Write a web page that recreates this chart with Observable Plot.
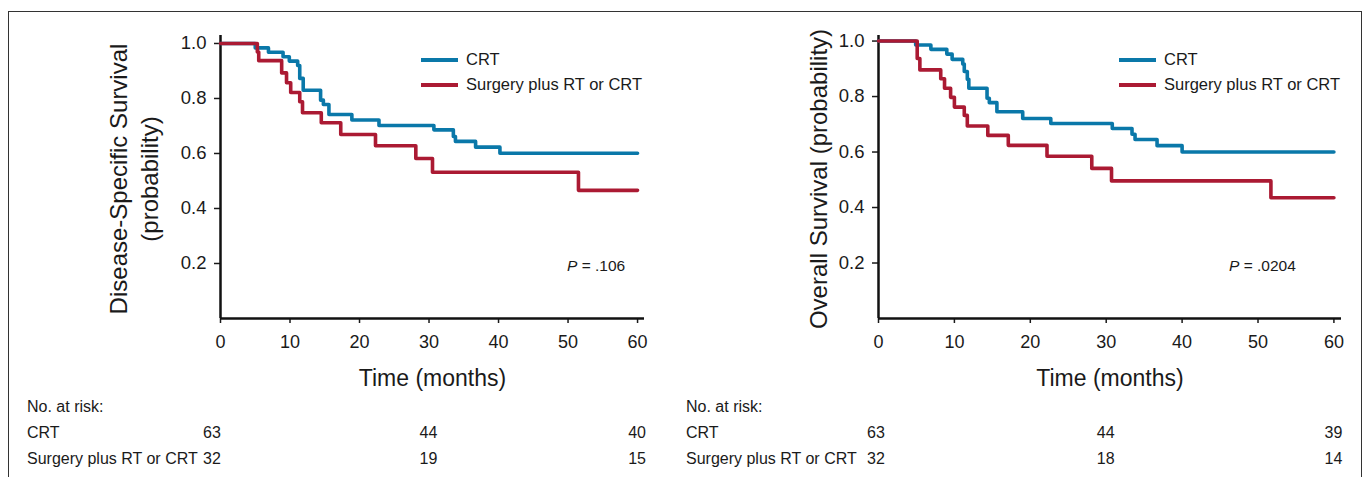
<!DOCTYPE html>
<html><head><meta charset="utf-8">
<script src="https://cdn.jsdelivr.net/npm/d3@7"></script>
<script src="https://cdn.jsdelivr.net/npm/@observablehq/plot@0.6"></script>
<style>
body{margin:0;background:#fff;font-family:"Liberation Sans",Arial,sans-serif;color:#1a1a1a}
#wrap{position:relative;width:1366px;height:477px;overflow:hidden;background:#fff}
#frame{position:absolute;left:8px;top:11px;width:1354px;height:520px;border:1.5px solid #333;box-sizing:border-box}
.abs{position:absolute;white-space:nowrap;line-height:1}
.panel{position:absolute;top:0}
</style></head><body><div id="wrap"><div id="frame"></div></div>
<script>
// ---- data ----
const groups = ["CRT", "Surgery plus RT or CRT"];
const groupColors = ["#0a78a9", "#ab1a33"];

// Disease-specific survival
const dssCrtTime = [0, 5.0, 6.9, 9.0, 9.9, 11.1, 11.4, 11.9, 14.4, 14.8, 15.6, 18.9, 22.8, 30.7, 33.5, 33.8, 36.7, 40.2, 60];
const dssCrtSurv = [1.0, 0.984, 0.968, 0.952, 0.936, 0.92, 0.873, 0.83, 0.794, 0.778, 0.742, 0.722, 0.702, 0.686, 0.662, 0.644, 0.623, 0.601, 0.601];
const dssSurgTime = [0, 5.3, 5.5, 8.8, 9.5, 10.1, 11.4, 11.8, 14.5, 17.3, 22.3, 28.1, 30.5, 51.5, 60];
const dssSurgSurv = [1.0, 0.969, 0.9375, 0.893, 0.857, 0.822, 0.788, 0.748, 0.712, 0.669, 0.628, 0.582, 0.532, 0.466, 0.466];

// Overall survival
const osCrtTime = [0, 4.9, 6.9, 9.0, 9.7, 11.1, 11.3, 11.7, 11.9, 14.3, 14.6, 15.6, 19.0, 22.7, 30.8, 33.4, 33.8, 36.7, 40.0, 60];
const osCrtSurv = [1.0, 0.986, 0.97, 0.953, 0.934, 0.917, 0.89, 0.862, 0.83, 0.794, 0.778, 0.745, 0.721, 0.703, 0.685, 0.664, 0.645, 0.623, 0.6, 0.6];
const osSurgTime = [0, 5.1, 5.45, 8.2, 8.7, 9.5, 10.0, 11.3, 11.7, 14.4, 17.1, 22.2, 28.1, 30.7, 51.7, 60];
const osSurgSurv = [1.0, 0.937, 0.896, 0.864, 0.83, 0.797, 0.762, 0.732, 0.694, 0.66, 0.624, 0.585, 0.541, 0.496, 0.435, 0.435];

const xTicks = [0, 10, 20, 30, 40, 50, 60];
const yTicks = [0.2, 0.4, 0.6, 0.8, 1.0];
const riskTimes = [0, 30, 60];
const dssRiskCrt = [63, 44, 40];
const dssRiskSurg = [32, 19, 15];
const osRiskCrt = [63, 44, 39];
const osRiskSurg = [32, 18, 14];
const dssP = ".106";
const osP = ".0204";
const dssYLabel = "Disease-Specific Survival\n(probability)";
const osYLabel = "Overall Survival (probability)";
const xLabel = "Time (months)";

function rows(time, surv, group) { return time.map((t, i) => ({t, s: surv[i], group})); }

function makePlot(cfg) {
  const data = [...rows(cfg.crtT, cfg.crtS, groups[0]), ...rows(cfg.surT, cfg.surS, groups[1])];
  return Plot.plot({
    width: cfg.width, height: 400,
    marginLeft: cfg.ml, marginRight: cfg.mr, marginTop: 35, marginBottom: 82,
    style: {fontFamily: '"Liberation Sans", Arial, sans-serif', fontSize: "18px", color: "#1a1a1a", background: "transparent", overflow: "visible"},
    x: {domain: [0, 61]},
    y: {domain: [0, cfg.ytop]},
    color: {domain: groups, range: groupColors},
    marks: [
      Plot.axisX({ticks: xTicks, tickSize: 5, tickPadding: 12, tickFormat: d => d, label: null, strokeWidth: 1.5, fontSize: 18}),
      Plot.axisY({ticks: yTicks, tickSize: 6, tickPadding: 8, tickFormat: d3.format(".1f"), label: null, strokeWidth: 1.5, fontSize: 18.5}),
      Plot.ruleY([0], {stroke: "#111", strokeWidth: 2.5}),
      Plot.ruleX([0], {stroke: "#111", strokeWidth: 2.5}),
      Plot.line(data, {x: "t", y: "s", z: "group", stroke: "group", curve: "step-after", strokeWidth: 3.6}),
      Plot.text([cfg.ylabel], {text: d => d, frameAnchor: "left", textAnchor: "middle", lineAnchor: "middle", rotate: -90, dx: cfg.ydx, dy: 2, fontSize: 24, lineHeight: 1.3, fill: "#1a1a1a"}),
      Plot.text([xLabel], {text: d => d, frameAnchor: "bottom", lineAnchor: "middle", dy: 60, fontSize: 23, fill: "#1a1a1a"})
    ]
  });
}

const wrap = document.getElementById("wrap");
function addText(txt, left, top, size, anchor, extra) {
  const el = document.createElement("div");
  el.className = "abs";
  el.style.left = left + "px"; el.style.top = top + "px"; el.style.fontSize = size + "px";
  const tx = anchor === "middle" ? "-50%" : anchor === "end" ? "-100%" : "0";
  el.style.transform = `translate(${tx},-50%)`;
  if (extra) Object.assign(el.style, extra);
  el.innerHTML = txt;
  wrap.appendChild(el);
  return el;
}
function addSwatch(x1, x2, y, color) {
  const el = document.createElement("div");
  el.className = "abs";
  Object.assign(el.style, {left: x1 + "px", top: (y - 2) + "px", width: (x2 - x1) + "px", height: "4px", background: color});
  wrap.appendChild(el);
}

const panels = [
  {left: 0, width: 680, ml: 220, mr: 36, ytop: 1.029, crtT: dssCrtTime, crtS: dssCrtSurv, surT: dssSurgTime, surS: dssSurgSurv,
   ylabel: dssYLabel, ydx: -88, p: dssP, pX: 567, legX: 421, tableX: 27, firstDx: -8, riskCrt: dssRiskCrt, riskSurg: dssRiskSurg},
  {left: 683, width: 683, ml: 195, mr: 25, ytop: 1.02, crtT: osCrtTime, crtS: osCrtSurv, surT: osSurgTime, surS: osSurgSurv,
   ylabel: osYLabel, ydx: -61, p: osP, pX: 1229, legX: 1119, tableX: 686, firstDx: -2, riskCrt: osRiskCrt, riskSurg: osRiskSurg}
];

for (const cfg of panels) {
  const plot = makePlot(cfg);
  const holder = document.createElement("div");
  holder.className = "panel";
  holder.style.left = cfg.left + "px";
  holder.appendChild(plot);
  wrap.appendChild(holder);
  const xs = plot.scale("x");
  // legend
  addSwatch(cfg.legX, cfg.legX + 37, 60, groupColors[0]);
  addSwatch(cfg.legX, cfg.legX + 37, 85, groupColors[1]);
  addText(groups[0], cfg.legX + 45, 59, 16.5, "start");
  addText(groups[1], cfg.legX + 45, 84, 16.5, "start");
  // p value
  addText(`<i>P</i> = ${cfg.p}`, cfg.pX, 266, 15.5, "start");
  // risk table
  addText("No. at risk:", cfg.tableX, 407, 16, "start");
  addText(groups[0], cfg.tableX, 433, 16, "start");
  addText(groups[1], cfg.tableX, 459, 16, "start");
  riskTimes.forEach((t, i) => {
    const px = cfg.left + xs.apply(t) + (i === 0 ? cfg.firstDx : 0);
    addText(String(cfg.riskCrt[i]), px, 433, 16, "middle");
    addText(String(cfg.riskSurg[i]), px, 459, 16, "middle");
  });
}
</script></body></html>
